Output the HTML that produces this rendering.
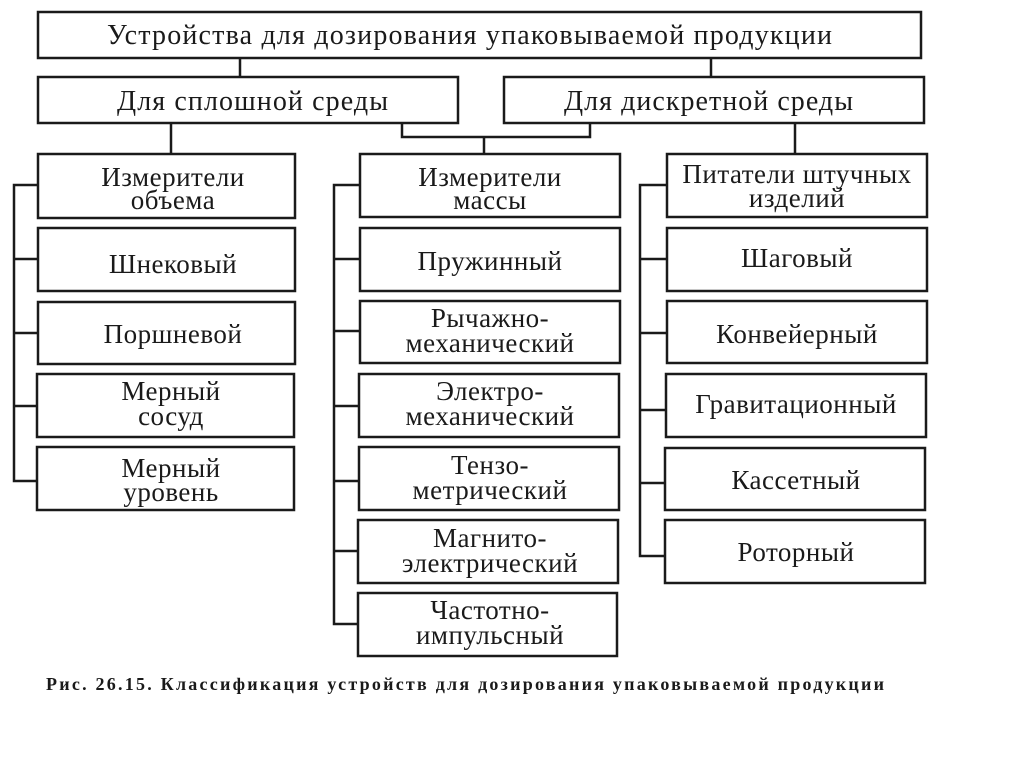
<!DOCTYPE html>
<html><head><meta charset="utf-8"><style>
body{margin:0;background:#fff;width:1024px;height:767px;overflow:hidden;}
svg text{font-family:"Liberation Serif","DejaVu Serif",serif;fill:#1a1a1a;}
</style></head><body>
<svg width="1024" height="767" xmlns="http://www.w3.org/2000/svg">
<g fill="none" stroke="#1a1a1a" stroke-width="2.5">
<rect x="38" y="12" width="883" height="46"/>
<rect x="38" y="77" width="420" height="46"/>
<rect x="504" y="77" width="420" height="46"/>
<path d="M240 58V77M711 58V77M402 123V137H590V123M484 137V153M171 123V153M795 123V153"/>
<rect x="38" y="154" width="257" height="64"/>
<rect x="38" y="228" width="257" height="63"/>
<rect x="38" y="302" width="257" height="62"/>
<rect x="37" y="374" width="257" height="63"/>
<rect x="37" y="447" width="257" height="63"/>
<path d="M38 185H14V481H37M14 259H38M14 333H38M14 406H37"/>
<rect x="360" y="154" width="260" height="63"/>
<rect x="360" y="228" width="260" height="63"/>
<rect x="360" y="301" width="260" height="62"/>
<rect x="359" y="374" width="260" height="63"/>
<rect x="359" y="447" width="260" height="63"/>
<rect x="358" y="520" width="260" height="63"/>
<rect x="358" y="593" width="259" height="63"/>
<path d="M360 185H334V624H358M334 259H360M334 331H360M334 406H359M334 481H359M334 551H358"/>
<rect x="667" y="154" width="260" height="63"/>
<rect x="667" y="228" width="260" height="63"/>
<rect x="667" y="301" width="260" height="62"/>
<rect x="666" y="374" width="260" height="63"/>
<rect x="665" y="448" width="260" height="62"/>
<rect x="665" y="520" width="260" height="63"/>
<path d="M667 185H640V556H665M640 259H667M640 333H667M640 410H666M640 483H665"/>
</g>
<text x="107" y="44" font-size="28" textLength="725" lengthAdjust="spacing">Устройства для дозирования упаковываемой продукции</text>
<text x="117" y="110" font-size="28" textLength="271" lengthAdjust="spacing">Для сплошной среды</text>
<text x="564" y="110" font-size="28" textLength="289" lengthAdjust="spacing">Для дискретной среды</text>
<g font-size="27" text-anchor="middle" letter-spacing="0.5">
<text x="173" y="186">Измерители</text><text x="173" y="209">объема</text>
<text x="173" y="273">Шнековый</text>
<text x="173" y="343">Поршневой</text>
<text x="171" y="400">Мерный</text><text x="171" y="425">сосуд</text>
<text x="171" y="477">Мерный</text><text x="171" y="501">уровень</text>
<text x="490" y="186">Измерители</text><text x="490" y="209">массы</text>
<text x="490" y="270">Пружинный</text>
<text x="490" y="327">Рычажно-</text><text x="490" y="352">механический</text>
<text x="490" y="400">Электро-</text><text x="490" y="425">механический</text>
<text x="490" y="474">Тензо-</text><text x="490" y="499">метрический</text>
<text x="490" y="547">Магнито-</text><text x="490" y="572">электрический</text>
<text x="490" y="619">Частотно-</text><text x="490" y="644">импульсный</text>
<text x="797" y="183">Питатели штучных</text><text x="797" y="207">изделий</text>
<text x="797" y="267">Шаговый</text>
<text x="797" y="343">Конвейерный</text>
<text x="796" y="413">Гравитационный</text>
<text x="796" y="489">Кассетный</text>
<text x="796" y="561">Роторный</text>
</g>
<text x="46" y="690" font-size="18" font-weight="bold" textLength="838" lengthAdjust="spacing">Рис. 26.15. Классификация устройств для дозирования упаковываемой продукции</text>
</svg>
</body></html>
